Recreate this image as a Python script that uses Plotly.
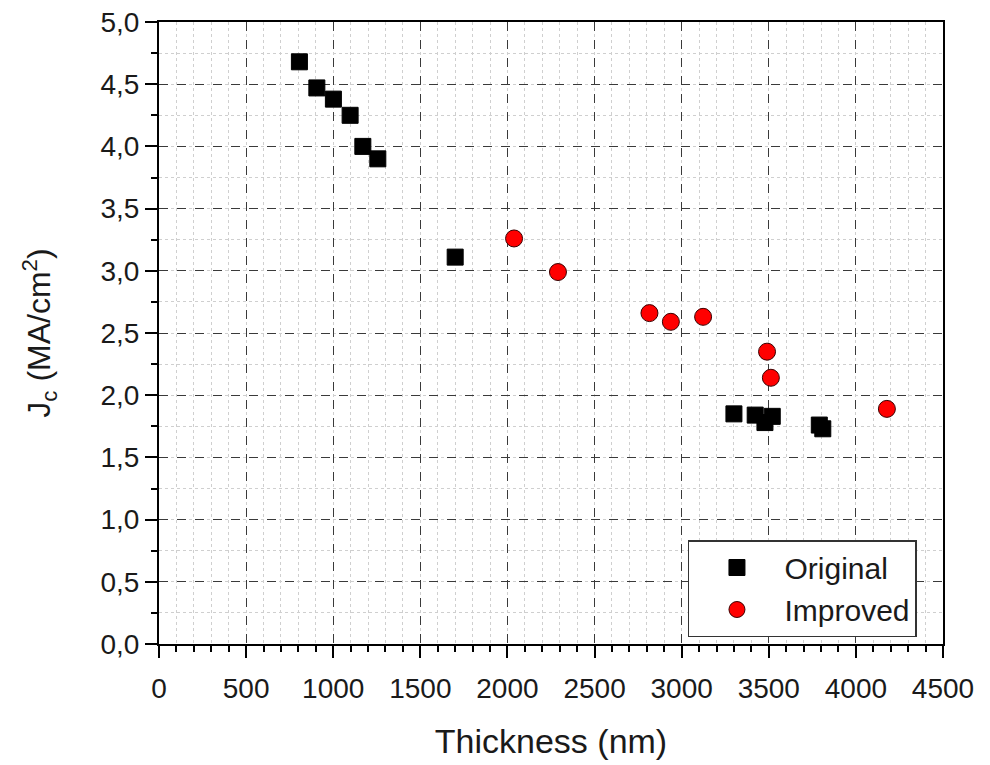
import plotly.graph_objects as go

# Data
orig_thickness = [806, 906, 1001, 1097, 1170, 1256, 1700, 3300, 3422, 3478, 3520, 3790, 3810]
orig_jc = [4.68, 4.47, 4.38, 4.25, 4.00, 3.90, 3.11, 1.85, 1.84, 1.78, 1.83, 1.76, 1.73]

impr_thickness = [2038, 2290, 2815, 2938, 3123, 3490, 3512, 4178]
impr_jc = [3.26, 2.99, 2.66, 2.59, 2.63, 2.35, 2.14, 1.89]

x_ticks = [0, 500, 1000, 1500, 2000, 2500, 3000, 3500, 4000, 4500]
y_ticks = [0.0, 0.5, 1.0, 1.5, 2.0, 2.5, 3.0, 3.5, 4.0, 4.5, 5.0]

FONT = "Liberation Sans, Arial, sans-serif"

fig = go.Figure()
fig.add_trace(go.Scatter(
    x=orig_thickness, y=orig_jc, mode="markers", name="Original",
    marker=dict(symbol="square", size=16, color="black",
                line=dict(color="black", width=1)),
))
fig.add_trace(go.Scatter(
    x=impr_thickness, y=impr_jc, mode="markers", name="Improved",
    marker=dict(symbol="circle", size=17, color="#ff0000",
                line=dict(color="#3a0000", width=1)),
))

axis_common = dict(
    showline=True, linecolor="black", linewidth=2, mirror=True,
    ticks="outside", ticklen=12, tickwidth=2, tickcolor="black",
    showgrid=True, gridcolor="#3a3a3a", gridwidth=1, griddash="dash",
    zeroline=False, automargin=False,
    tickfont=dict(family=FONT, size=28, color="#1a1a1a"),
)

fig.update_xaxes(
    **axis_common,
    range=[0, 4500], tickvals=x_ticks, tickformat="d",
    ticklabelstandoff=6,
    minor=dict(dtick=100, ticks="outside", ticklen=6, tickwidth=1.5,
               tickcolor="black", showgrid=True, gridcolor="#cfcfcf",
               griddash="dot", gridwidth=1),
    title=dict(text="Thickness (nm)", font=dict(family=FONT, size=34, color="#1a1a1a"),
               standoff=27),
)
fig.update_yaxes(
    **axis_common,
    range=[0, 5.0], tickvals=y_ticks, tickformat=".1f",
    minor=dict(dtick=0.25, ticks="outside", ticklen=6, tickwidth=1.5,
               tickcolor="black", showgrid=True, gridcolor="#cfcfcf",
               griddash="dot", gridwidth=1),
    title=dict(text="J<sub>c</sub> (MA/cm<sup>2</sup>)",
               font=dict(family=FONT, size=32, color="#1a1a1a"), standoff=40),
)

fig.update_layout(
    width=990, height=765,
    margin=dict(l=159, r=47, t=22, b=121),
    paper_bgcolor="white", plot_bgcolor="white",
    separators=", ",
    showlegend=True,
    legend=dict(
        x=0.6747, y=0.1672, xanchor="left", yanchor="top",
        bgcolor="white", bordercolor="#333333", borderwidth=1.5,
        font=dict(family=FONT, size=30, color="#1a1a1a"),
        itemwidth=85, tracegroupgap=0,
    ),
)

fig.write_html("out.html")
